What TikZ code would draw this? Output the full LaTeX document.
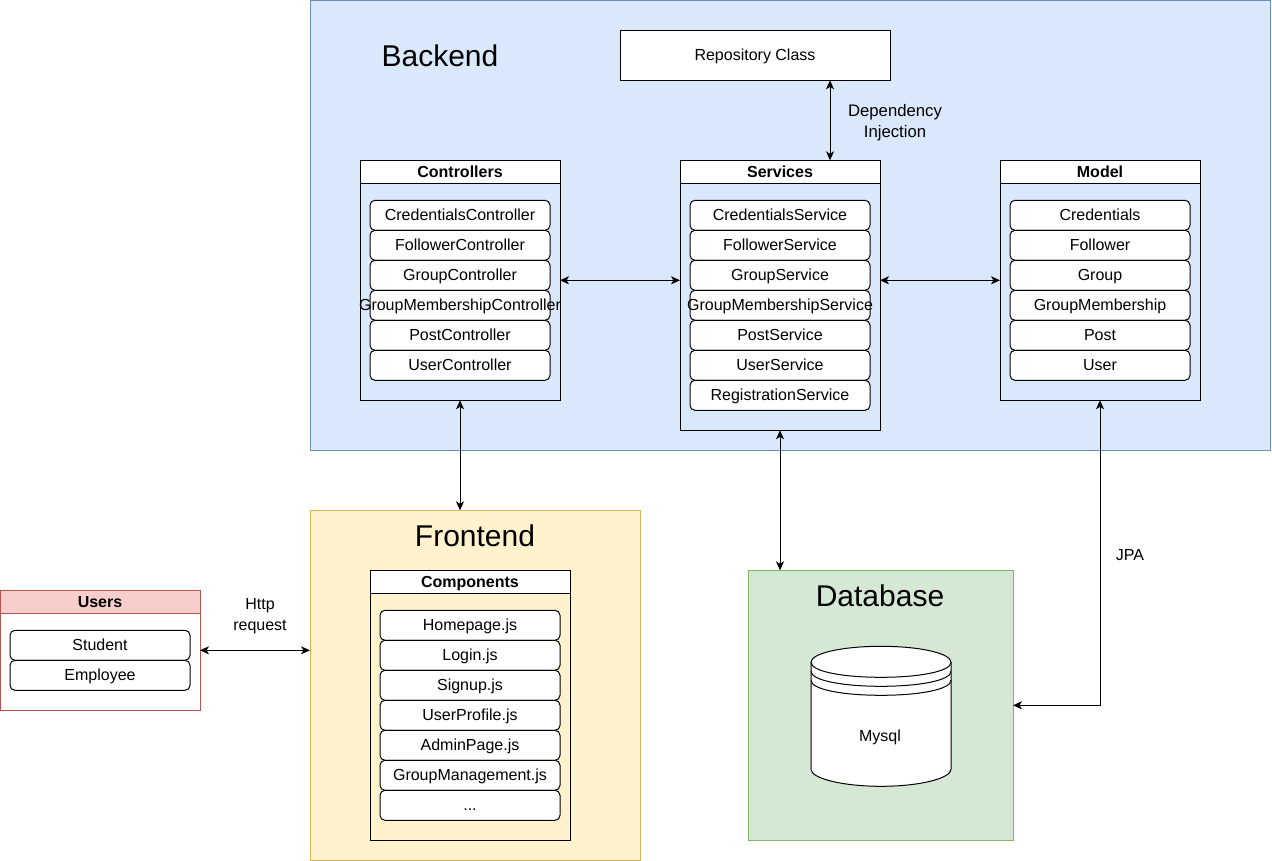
\documentclass[tikz,border=0pt]{standalone}
\usepackage{fontspec}
\setmainfont{Liberation Sans}
\usetikzlibrary{arrows.meta}

\definecolor{backfill}{HTML}{DAE8FC}
\definecolor{backline}{HTML}{6C8EBF}
\definecolor{frontfill}{HTML}{FFF2CC}
\definecolor{frontline}{HTML}{D6B656}
\definecolor{dbfill}{HTML}{D5E8D4}
\definecolor{dbline}{HTML}{82B366}
\definecolor{userfill}{HTML}{F8CECC}
\definecolor{userline}{HTML}{B85450}

\newcommand{\rowdots}{...}

\tikzset{
  area/.style={draw, line width=1pt, inner sep=0pt, outer sep=0pt},
  areatitle/.style={font=\fontsize{30}{32}\selectfont},
  groupbody/.style={draw, line width=1pt, minimum width=200pt, inner sep=0pt, outer sep=0pt},
  grouphead/.style={draw, fill=white, line width=1pt, minimum width=200pt, minimum height=23pt,
    inner sep=0pt, outer sep=0pt, text height=11pt, text depth=0pt, font=\fontsize{16}{18}\selectfont\bfseries},
  rowbox/.style={draw, fill=white, line width=1pt, rounded corners=5pt, minimum width=180pt, minimum height=30pt,
    inner sep=0pt, outer sep=0pt, text height=11pt, text depth=1pt, font=\fontsize{16}{18}\selectfont},
  note/.style={align=center, inner sep=0pt, font=\fontsize{16}{21}\selectfont},
  link/.style={line width=1pt, {Stealth[length=9pt,width=8pt,inset=2.5pt]}-{Stealth[length=9pt,width=8pt,inset=2.5pt]}}
}

\begin{document}
\begin{tikzpicture}[x=1pt,y=-1pt]
\useasboundingbox (0,-0.3) rectangle (1272,860.7);

% areas
\node[area, fill=backfill, draw=backline, minimum width=960pt, minimum height=450pt] (back) at (790,225) {};
\node[area, fill=frontfill, draw=frontline, minimum width=330pt, minimum height=350pt] (front) at (475,685) {};
\node[area, fill=dbfill, draw=dbline, minimum width=265pt, minimum height=270pt] (db) at (880.5,705) {};
\node[areatitle] (backtitle) at (440,55.5) {Backend};
\node[areatitle] (fronttitle) at (475,535.5) {Frontend};
\node[areatitle] (dbtitle) at (880,595.5) {Database};

\node[area, fill=white, minimum width=270pt, minimum height=50pt, text height=11pt, text depth=1pt, font=\fontsize{16}{18}\selectfont] (repo) at (755,55) {Repository Class};

% controllers
\node[groupbody, minimum height=240pt] (ctrl) at (460,280) {};
\node[grouphead] (ctrlhead) at (460,171.5) {Controllers};
\foreach \name [count=\i] in {CredentialsController,FollowerController,GroupController,GroupMembershipController,PostController,UserController}
  \node[rowbox] (ctrl\i) at (460,185+30*\i) {\makebox[0pt]{\name}};

% services
\node[groupbody, minimum height=270pt] (svc) at (780,295) {};
\node[grouphead] (svchead) at (780,171.5) {Services};
\foreach \name [count=\i] in {CredentialsService,FollowerService,GroupService,GroupMembershipService,PostService,UserService,RegistrationService}
  \node[rowbox] (svc\i) at (780,185+30*\i) {\makebox[0pt]{\name}};

% model
\node[groupbody, minimum height=240pt] (model) at (1100,280) {};
\node[grouphead] (modelhead) at (1100,171.5) {Model};
\foreach \name [count=\i] in {Credentials,Follower,Group,GroupMembership,Post,User}
  \node[rowbox] (model\i) at (1100,185+30*\i) {\makebox[0pt]{\name}};

% components
\node[groupbody, minimum height=270pt] (comp) at (470,705) {};
\node[grouphead] (comphead) at (470,581.5) {\raisebox{0pt}[11pt][0pt]{Components}};
\foreach \name [count=\i] in {Homepage.js,Login.js,Signup.js,UserProfile.js,AdminPage.js,GroupManagement.js,\rowdots}
  \node[rowbox] (comp\i) at (470,595+30*\i) {\makebox[0pt]{\name}};

% users
\node[groupbody, fill=white, draw=userline, minimum height=120pt] (usr) at (100,650) {};
\node[grouphead, fill=userfill, draw=userline] (usrhead) at (100,601.5) {Users};
\foreach \name [count=\i] in {Student,Employee}
  \node[rowbox] (usr\i) at (100,615+30*\i) {\makebox[0pt]{\name}};

% mysql
\draw[fill=white, line width=1pt] (811,662) .. controls (811,653) and (842,646) .. (881,646)
  .. controls (920,646) and (951,653) .. (951,662) -- (951,769)
  .. controls (951,778) and (920,786) .. (881,786) .. controls (842,786) and (811,778) .. (811,769) -- cycle;
\foreach \d in {0,9,18}
  \draw[line width=1pt] (811,662+\d) .. controls (811,671+\d) and (842,677+\d) .. (881,677+\d)
    .. controls (920,677+\d) and (951,671+\d) .. (951,662+\d);
\node[note] (mysql) at (880,737) {Mysql};

% labels
\node[note, font=\fontsize{16.7}{21}\selectfont] (dilabel) at (895,122.5) {Dependency\\Injection};
\node[note] (httplabel) at (260,615.5) {Http\\request};
\node[note] (jpalabel) at (1130,554.5) {JPA};

% links
\coordinate (di) at (830,120);
\draw[link] (di |- repo.south) -- (di |- svc.north);
\draw[link] (ctrl.east) -- (ctrl.east -| svc.west);
\draw[link] (ctrl.east -| svc.east) -- (model.west);
\draw[link] (ctrl.south) -- (ctrl.south |- front.north);
\draw[link] (svc.south) -- (svc.south |- db.north);
\draw[link] (model.south) |- (db.east);
\draw[link] (usr.east) -- (usr.east -| front.west);
\end{tikzpicture}
\end{document}
